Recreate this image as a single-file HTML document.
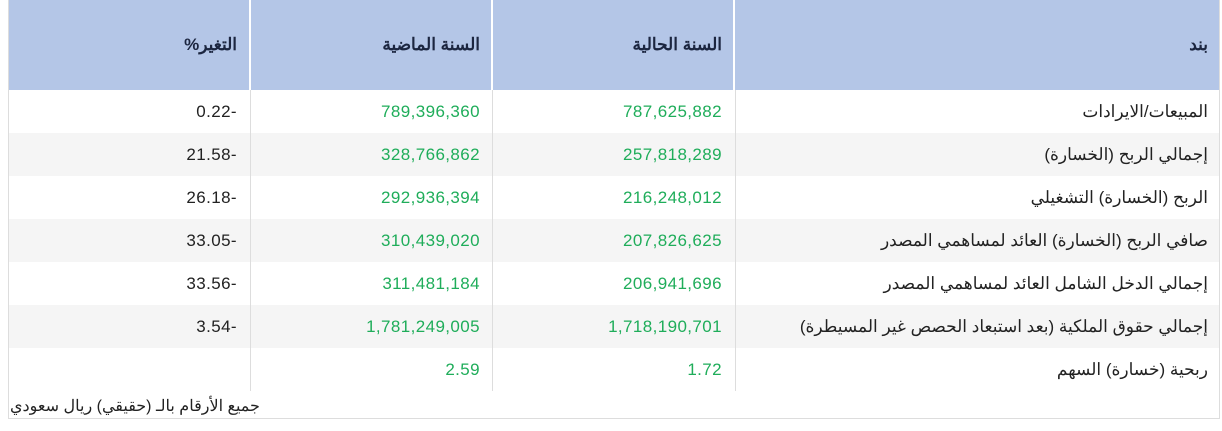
<!DOCTYPE html>
<html><head><meta charset="utf-8"><style>
body{margin:0;background:#fff;width:1222px;height:431px;overflow:hidden;position:relative;font-family:"Liberation Sans","Noto Sans CJK SC",sans-serif;}
.wrap{position:absolute;left:8px;top:0;width:1212px;height:419px;border:1px solid #ddd;border-top:none;box-sizing:border-box;}
.hdr{position:absolute;left:9px;top:0;width:1211px;height:90px;background:#b4c6e7;}
.vl{position:absolute;width:2px;background:#fff;top:0;height:90px;}
.bl{position:absolute;width:1px;background:#ddd;top:90px;height:301px;}
.row{position:absolute;left:9px;width:1210px;height:43px;}
.s{background:#f5f5f5;}
.c{position:absolute;font-size:17px;line-height:20px;color:#222;white-space:nowrap;direction:ltr;text-align:right;letter-spacing:0.4px;}
.h{font-weight:bold;color:#1c2640;direction:rtl;letter-spacing:0;}
.g{color:#1fad5a;}
.ar{direction:rtl;letter-spacing:0;}
</style></head><body>
<div class="hdr"></div>
<div class="vl" style="left:249px"></div><div class="vl" style="left:491px"></div><div class="vl" style="left:733px"></div>
<div class="row s" style="top:133px"></div>
<div class="row s" style="top:219px"></div>
<div class="row s" style="top:305px"></div>
<div class="bl" style="left:250px"></div><div class="bl" style="left:492px"></div><div class="bl" style="left:735px"></div>
<div class="wrap"></div>

<div class="c h" style="right:985px;top:35px">التغير%</div>
<div class="c h" style="right:742px;top:35px">السنة الماضية</div>
<div class="c h" style="right:500px;top:35px">السنة الحالية</div>
<div class="c h" style="right:14px;top:35px">بند</div>

<div id="rows"></div>
<script>
var d=[["المبيعات/الايرادات","787,625,882","789,396,360","0.22-"],
["إجمالي الربح (الخسارة)","257,818,289","328,766,862","21.58-"],
["الربح (الخسارة) التشغيلي","216,248,012","292,936,394","26.18-"],
["صافي الربح (الخسارة) العائد لمساهمي المصدر","207,826,625","310,439,020","33.05-"],
["إجمالي الدخل الشامل العائد لمساهمي المصدر","206,941,696","311,481,184","33.56-"],
["إجمالي حقوق الملكية (بعد استبعاد الحصص غير المسيطرة)","1,718,190,701","1,781,249,005","3.54-"],
["ربحية (خسارة) السهم","1.72","2.59",""]];
var h="";
d.forEach(function(r,i){var t=102+i*43;
h+='<div class="c ar" style="right:14px;top:'+t+'px">'+r[0]+'</div>';
h+='<div class="c g" style="right:500px;top:'+t+'px">'+r[1]+'</div>';
h+='<div class="c g" style="right:742px;top:'+t+'px">'+r[2]+'</div>';
h+='<div class="c" style="right:985px;top:'+t+'px">'+r[3]+'</div>';});
h+='<div class="c ar" style="left:10px;top:397px;font-size:16px">جميع الأرقام بالـ (حقيقي) ريال سعودي</div>';
document.getElementById("rows").innerHTML=h;
</script>
</body></html>
